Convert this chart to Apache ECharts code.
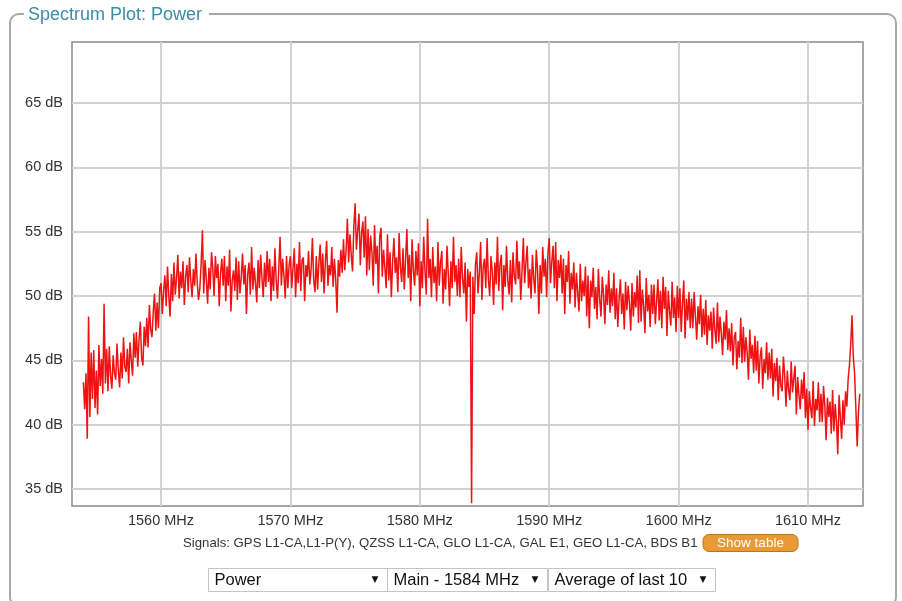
<!DOCTYPE html>
<html><head><meta charset="utf-8">
<script src="https://cdn.jsdelivr.net/npm/echarts@6/dist/echarts.min.js"></script>
<style>html,body{margin:0;padding:0;background:#fff;}#c{width:902px;height:601px;}</style>
</head><body><div id="c"></div>
<script>
// Spectrum samples: frequency grid start / spacing (MHz) and measured power (dB), one row per MHz
const freqStartMHz = 1554.0;
const freqStepMHz = 0.1;
const powerDb = [
 43.3,41.2,44.0,38.9,48.4,40.6,45.6,42.0,45.8,41.3,  // 1554
 44.2,40.8,46.2,43.0,45.1,42.4,49.4,43.2,45.9,42.6,  // 1555
 46.1,43.8,42.8,45.4,44.0,43.5,46.3,44.2,42.9,45.6,  // 1556
 43.6,46.8,44.5,44.1,45.9,43.2,46.4,45.0,43.8,47.1,  // 1557
 45.2,47.2,44.5,46.6,48.0,45.2,44.6,47.6,46.1,48.3,  // 1558
 46.0,49.3,47.4,46.8,48.8,50.2,47.3,49.5,47.5,50.6,  // 1559
 51.0,48.6,50.4,51.6,49.2,52.3,50.0,48.4,51.7,49.6,  // 1560
 52.6,50.1,51.4,53.2,49.8,51.9,50.6,52.7,49.3,51.5,  // 1561
 52.4,50.3,53.0,51.2,49.9,52.1,50.8,53.3,51.0,49.7,  // 1562
 50.6,52.5,55.1,50.2,52.8,51.3,49.4,52.2,50.5,53.4,  // 1563
 52.2,50.0,53.1,51.4,52.5,49.2,51.8,52.9,50.8,53.1,  // 1564
 49.6,52.3,50.8,53.6,48.8,51.2,52.0,50.4,53.0,49.7,  // 1565
 52.7,50.2,51.5,53.3,50.9,52.4,48.6,51.7,52.6,50.1,  // 1566
 53.8,50.5,52.2,51.0,49.5,52.8,50.6,53.2,51.4,49.9,  // 1567
 52.6,50.7,53.5,51.1,52.9,49.6,52.3,50.4,53.7,51.2,  // 1568
 49.8,52.1,54.6,50.8,52.9,51.6,49.8,53.1,50.6,52.4,  // 1569
 53.1,50.6,52.2,53.7,49.9,52.5,51.0,54.2,50.4,52.8,  // 1570
 53.0,49.6,52.4,51.5,53.5,50.9,52.1,54.5,51.2,50.3,  // 1571
 53.1,50.5,52.6,54.0,51.1,53.3,50.2,52.7,54.3,50.8,  // 1572
 52.4,51.6,53.8,50.7,52.9,51.3,48.7,52.8,51.5,53.6,  // 1573
 51.8,54.4,52.0,53.5,56.0,52.6,54.8,53.2,51.9,55.4,  // 1574
 57.2,53.6,55.1,56.4,52.4,54.9,55.8,53.0,56.2,51.6,  // 1575
 55.2,52.0,54.7,53.4,50.8,55.5,52.5,53.9,50.2,54.6,  // 1576
 55.3,51.5,53.6,52.2,50.6,54.8,51.2,53.4,49.9,52.7,  // 1577
 54.5,51.8,53.0,50.3,54.9,52.2,51.1,53.7,50.5,52.9,  // 1578
 55.2,51.4,53.2,49.6,54.4,52.0,50.8,53.5,51.6,54.1,  // 1579
 49.2,52.7,50.6,54.6,51.9,50.1,56.0,51.4,52.9,49.9,  // 1580
 53.8,51.0,52.3,49.6,54.2,50.8,52.6,53.5,49.4,52.1,  // 1581
 50.5,53.9,51.7,49.2,52.7,50.6,54.6,51.1,52.4,50.0,  // 1582
 52.9,49.9,53.8,51.4,50.2,52.6,48.0,52.1,50.7,51.9,  // 1583
 33.9,51.5,48.6,52.4,53.4,50.2,51.8,54.2,49.7,52.3,  // 1584
 52.9,50.6,54.5,51.3,50.0,53.1,51.9,49.3,52.6,50.9,  // 1585
 54.6,50.4,52.5,53.2,48.9,52.4,50.7,53.9,51.2,50.1,  // 1586
 52.8,49.5,53.4,51.6,50.9,54.3,51.3,52.7,49.7,52.0,  // 1587
 54.5,51.0,52.6,53.9,50.6,52.1,49.8,53.2,51.4,50.2,  // 1588
 53.6,52.0,48.6,52.4,50.2,53.8,51.5,52.9,49.9,53.3,  // 1589
 54.5,51.0,52.7,53.9,50.6,54.2,49.6,52.8,51.4,53.2,  // 1590
 50.2,52.9,48.6,52.4,51.1,53.5,49.4,51.8,50.5,52.6,  // 1591
 49.1,51.8,50.3,48.8,52.5,49.6,51.2,50.0,52.3,48.4,  // 1592
 51.6,47.5,51.2,49.9,52.2,49.0,50.7,48.2,52.1,49.8,  // 1593
 48.4,51.5,50.1,47.8,50.9,49.3,52.0,48.7,50.6,49.2,  // 1594
 51.8,48.2,50.6,47.6,49.8,51.3,48.6,50.2,47.4,51.1,  // 1595
 48.9,50.8,49.4,47.3,51.0,48.4,50.3,49.1,51.6,47.9,  // 1596
 52.0,48.0,50.5,49.2,47.1,51.4,48.8,50.1,47.6,50.9,  // 1597
 48.6,50.9,47.8,49.6,51.3,48.1,50.4,47.5,51.5,49.0,  // 1598
 50.7,46.9,50.4,48.8,47.7,51.1,48.3,49.9,47.2,50.8,  // 1599
 48.3,50.6,47.2,49.5,51.2,46.7,49.8,48.1,50.3,47.5,  // 1600
 49.8,47.5,50.3,48.4,46.6,49.2,47.8,50.1,46.8,49.0,  // 1601
 47.0,49.7,46.2,48.5,47.3,48.8,45.9,49.1,47.4,46.3,  // 1602
 49.5,46.4,48.4,47.1,45.4,48.0,46.6,48.9,45.8,47.5,  // 1603
 45.7,47.9,44.6,46.8,47.2,44.3,46.5,45.2,48.3,44.8,  // 1604
 47.6,44.9,46.8,45.6,43.5,47.4,45.1,46.2,44.0,46.9,  // 1605
 44.2,46.5,43.2,45.3,46.0,42.8,45.1,44.0,46.4,43.5,  // 1606
 45.6,43.6,45.9,42.2,44.8,43.4,45.2,41.9,44.6,43.0,  // 1607
 42.6,45.3,43.8,41.4,44.2,42.7,41.9,44.9,42.5,43.6,  // 1608
 44.6,40.8,43.7,42.3,41.2,43.5,42.0,44.1,40.5,42.8,  // 1609
 39.6,42.6,41.3,40.5,43.4,39.9,42.0,41.1,43.3,40.2,  // 1610
 42.4,40.2,43.0,41.5,38.8,42.1,40.6,41.8,39.3,42.7,  // 1611
 39.5,41.6,40.2,37.7,42.3,40.6,38.9,41.9,40.0,42.6,  // 1612
 41.4,43.5,44.6,46.2,48.5,45.3,44.0,41.2,38.3,41.0,  // 1613
 42.4                                               // 1614
];
const xTicks = [1560, 1570, 1580, 1590, 1600, 1610];
const yTicks = [35, 40, 45, 50, 55, 60, 65];
const titleText = 'Spectrum Plot: Power';
const signalsText = 'Signals: GPS L1-CA,L1-P(Y), QZSS L1-CA, GLO L1-CA, GAL E1, GEO L1-CA, BDS B1';
const buttonText = 'Show table';
const selectLabels = ['Power', 'Main - 1584 MHz', 'Average of last 10'];

const seriesData = powerDb.map((v, i) => [freqStartMHz + i * freqStepMHz, v]);
const FONT = 'Liberation Sans';

const selBoxes = [
  {x: 208.5, w: 179, arrowX: 375},
  {x: 387.5, w: 160, arrowX: 535},
  {x: 548.5, w: 167, arrowX: 703}
];
const graphics = [
  {type: 'rect', silent: true, z: -10, shape: {x: 10, y: 14, width: 886, height: 592, r: 9},
   style: {fill: 'none', stroke: '#a8a8a8', lineWidth: 2}},
  {type: 'rect', silent: true, z: -9, shape: {x: 24, y: 4, width: 185, height: 22},
   style: {fill: '#fff'}},
  {type: 'text', silent: true, x: 28, y: 15,
   style: {text: titleText, fill: '#3a8ca8', font: '18px ' + FONT, verticalAlign: 'middle'}},
  {type: 'text', silent: true, x: 183, y: 543,
   style: {text: signalsText, fill: '#333', font: '13.2px ' + FONT, verticalAlign: 'middle'}},
  {type: 'rect', silent: true, shape: {x: 703, y: 534.5, width: 95, height: 17, r: 6},
   style: {fill: '#e99a36', stroke: '#b8741c', lineWidth: 1}},
  {type: 'text', silent: true, x: 750.5, y: 543,
   style: {text: buttonText, fill: '#fff', font: '13.5px ' + FONT, align: 'center', verticalAlign: 'middle'}}
];
selBoxes.forEach((b, i) => {
  graphics.push({type: 'rect', silent: true, shape: {x: b.x, y: 568.5, width: b.w, height: 23},
    style: {fill: '#fff', stroke: '#c4c4c4', lineWidth: 1}});
  graphics.push({type: 'text', silent: true, x: b.x + 6, y: 580,
    style: {text: selectLabels[i], fill: '#111', font: '16.5px ' + FONT, verticalAlign: 'middle'}});
  graphics.push({type: 'text', silent: true, x: b.arrowX, y: 580,
    style: {text: '\u25BC', fill: '#111', font: '9px DejaVu Sans', align: 'center', verticalAlign: 'middle'}});
});

const chart = echarts.init(document.getElementById('c'), null, {renderer: 'canvas'});
chart.setOption({
  animation: false,
  backgroundColor: '#fff',
  grid: {left: 72, top: 42, right: 39, bottom: 95, show: true, borderColor: '#8a8a8a', borderWidth: 1.5, backgroundColor: '#fff'},
  xAxis: {
    type: 'value', min: 1553.12, max: 1614.25,
    axisLine: {show: false},
    axisTick: {show: false, customValues: xTicks},
    axisLabel: {customValues: xTicks, formatter: v => v + ' MHz', color: '#333', fontSize: 14.5, fontFamily: FONT, margin: 7},
    splitLine: {show: true, lineStyle: {color: '#d2d2d2', width: 2}}
  },
  yAxis: {
    type: 'value', min: 33.68, max: 69.74,
    axisLine: {show: false},
    axisTick: {show: false, customValues: yTicks},
    axisLabel: {customValues: yTicks, formatter: v => v + ' dB', color: '#333', fontSize: 14.5, fontFamily: FONT, margin: 9},
    splitLine: {show: true, lineStyle: {color: '#d2d2d2', width: 2}}
  },
  series: [{
    type: 'line', data: seriesData, symbol: 'none', showSymbol: false,
    lineStyle: {color: '#ee1212', width: 1.5}, z: 3
  }],
  graphic: graphics
});
</script></body></html>
